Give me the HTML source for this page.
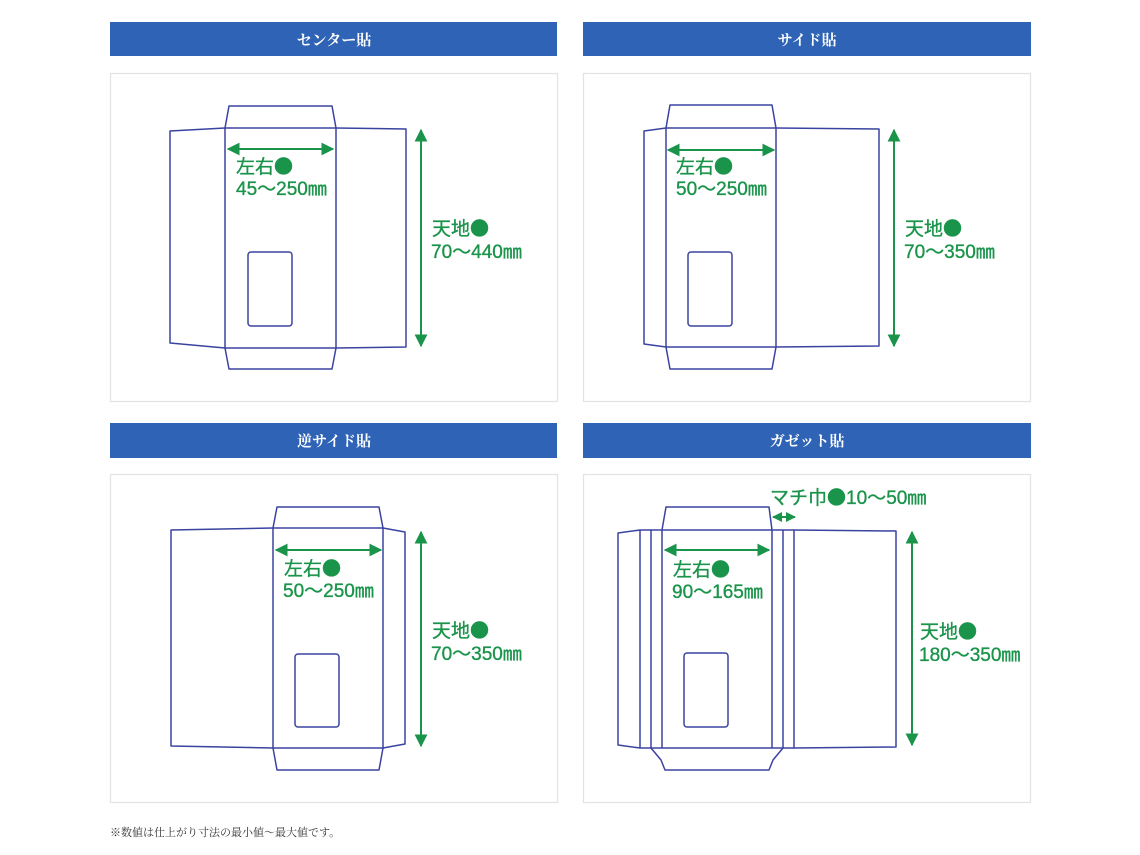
<!DOCTYPE html>
<html><head><meta charset="utf-8"><style>
html,body{margin:0;padding:0;background:#fff;}
body{width:1140px;height:855px;overflow:hidden;position:relative;}
svg{position:absolute;left:0;top:0;}
.c{font-family:"Noto Sans CJK JP",sans-serif;}
</style></head><body>
<svg width="1140" height="855" viewBox="0 0 1140 855" xmlns="http://www.w3.org/2000/svg">
<defs>
<marker id="a" viewBox="0 0 10 10" refX="9" refY="5" markerWidth="6.5" markerHeight="6.5" orient="auto-start-reverse" markerUnits="strokeWidth"><path d="M0,0 L10,5 L0,10 z" fill="#1a944a"/></marker>
<marker id="b" viewBox="0 0 10 10" refX="9" refY="5" markerWidth="5" markerHeight="5" orient="auto-start-reverse" markerUnits="strokeWidth"><path d="M0,0 L10,5 L0,10 z" fill="#1a944a"/></marker>
</defs>
<g fill="#2f63b6">
<rect x="110" y="22" width="447" height="34"/>
<rect x="583" y="22" width="448" height="34"/>
<rect x="110" y="423" width="447" height="35"/>
<rect x="583" y="423" width="448" height="35"/>
</g>
<g fill="#fff" font-family="'Noto Serif CJK SC', serif" font-weight="bold" font-size="15" text-anchor="middle">
<text x="334" y="45">センター貼</text>
<text x="807" y="45">サイド貼</text>
<text x="334" y="446">逆サイド貼</text>
<text x="807" y="446">ガゼット貼</text>
</g>
<g fill="none" stroke="#e3e3e3" stroke-width="1.2">
<rect x="110.5" y="73.5" width="447" height="328"/>
<rect x="583.5" y="73.5" width="447" height="328"/>
<rect x="110.5" y="474.5" width="447" height="328"/>
<rect x="583.5" y="474.5" width="447" height="328"/>
</g>
<g fill="none" stroke="#3a43a0" stroke-width="1.5" stroke-linejoin="round">
<path d="M225,128 L229,106 L332,106 L336,128"/>
<path d="M225,348 L229,369 L332,369 L336,348"/>
<rect x="225" y="128" width="111" height="220"/>
<path d="M225,128 L170,131 L170,343 L225,348"/>
<path d="M336,128 L406,129 L406,347 L336,348"/>
<rect x="248" y="252" width="44" height="74" rx="3"/>
<path d="M666,128 L670,105 L772,105 L776,128"/>
<path d="M666,347 L670,369 L772,369 L776,347"/>
<rect x="666" y="128" width="110" height="219"/>
<path d="M666,128 L644,131 L644,344 L666,347"/>
<path d="M776,128 L879,129 L879,346 L776,347"/>
<rect x="688" y="252" width="44" height="74" rx="3"/>
<path d="M273,528 L277,507 L379,507 L383,528"/>
<path d="M273,748 L277,770 L379,770 L383,748"/>
<rect x="273" y="528" width="110" height="220"/>
<path d="M273,528 L171,530 L171,746 L273,748"/>
<path d="M383,528 L405,532 L405,744 L383,748"/>
<rect x="295" y="654" width="44" height="73" rx="3"/>
<path d="M662,530 L666,507 L769,507 L772,530"/>
<path d="M651,748 L661,760 L665,770 L769,770 L773,760 L783,748"/>
<rect x="651" y="530" width="143" height="218"/>
<line x1="662" y1="530" x2="662" y2="748"/>
<line x1="772" y1="530" x2="772" y2="748"/>
<line x1="783" y1="530" x2="783" y2="748"/>
<path d="M651,530 L640,530 L618,533 L618,745 L640,748 L651,748"/>
<line x1="640" y1="530" x2="640" y2="748"/>
<path d="M794,530 L896,531 L896,747 L794,748"/>
<rect x="684" y="653" width="44" height="74" rx="3"/>
</g>
<g stroke="#1a944a" stroke-width="2" marker-start="url(#a)" marker-end="url(#a)">
<line x1="228" y1="149" x2="333" y2="149"/>
<line x1="421" y1="130" x2="421" y2="346"/>
<line x1="668" y1="150" x2="774" y2="150"/>
<line x1="894" y1="130" x2="894" y2="346"/>
<line x1="276" y1="550" x2="381" y2="550"/>
<line x1="421" y1="532" x2="421" y2="746"/>
<line x1="665" y1="550" x2="769" y2="550"/>
<line x1="912" y1="532" x2="912" y2="745"/>
<line x1="773" y1="517" x2="795" y2="517" marker-start="url(#b)" marker-end="url(#b)"/>
</g>
<g fill="#1a944a" stroke="#1a944a" stroke-width="0.35" font-family="'Liberation Sans','Noto Sans CJK JP',sans-serif" font-size="19">
<text x="236" y="173">左右<tspan class="c">●</tspan></text><text x="236" y="195">45<tspan class="c">～</tspan>250㎜</text>
<text x="432" y="235">天地<tspan class="c">●</tspan></text><text x="431" y="258">70<tspan class="c">～</tspan>440㎜</text>
<text x="676" y="173">左右<tspan class="c">●</tspan></text><text x="676" y="195">50<tspan class="c">～</tspan>250㎜</text>
<text x="905" y="235">天地<tspan class="c">●</tspan></text><text x="904" y="258">70<tspan class="c">～</tspan>350㎜</text>
<text x="284" y="575">左右<tspan class="c">●</tspan></text><text x="283" y="597">50<tspan class="c">～</tspan>250㎜</text>
<text x="432" y="637">天地<tspan class="c">●</tspan></text><text x="431" y="660">70<tspan class="c">～</tspan>350㎜</text>
<text x="673" y="576">左右<tspan class="c">●</tspan></text><text x="672" y="598">90<tspan class="c">～</tspan>165㎜</text>
<text x="920" y="638">天地<tspan class="c">●</tspan></text><text x="919" y="661">180<tspan class="c">～</tspan>350㎜</text>
<text x="770" y="504">マチ巾<tspan class="c">●</tspan>10<tspan class="c">～</tspan>50㎜</text>
</g>
<text x="110" y="836" font-family="'Noto Serif CJK SC',serif" font-size="11" fill="#333">※数値は仕上がり寸法の最小値～最大値です。</text>
</svg>
</body></html>
